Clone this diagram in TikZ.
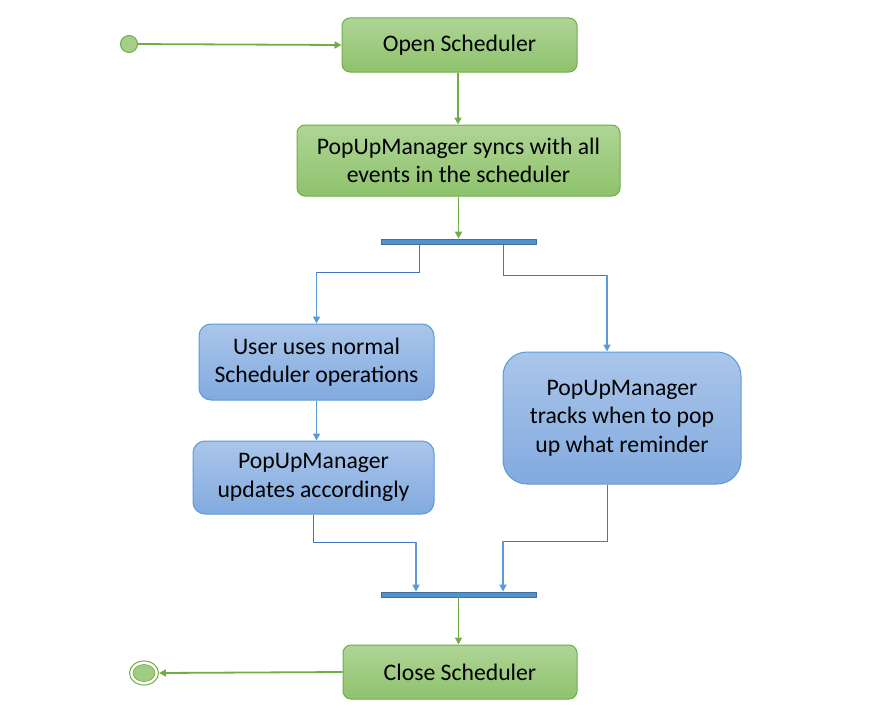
\documentclass[tikz,border=0pt]{standalone}
\usepackage{fontspec}
\setmainfont{Carlito}
\usetikzlibrary{arrows.meta,shapes.geometric}
\definecolor{grnline}{HTML}{70AD47}
\definecolor{grntop}{HTML}{AFD596}
\definecolor{grnbot}{HTML}{8EC26C}
\definecolor{bluline}{HTML}{5B9BD5}
\definecolor{bludark}{HTML}{4472C4}
\definecolor{blutop}{HTML}{AAC6EA}
\definecolor{blubot}{HTML}{82AADF}
\definecolor{barfill}{HTML}{5390CF}
\definecolor{barline}{HTML}{41719C}
\tikzset{
    greenbox/.style={draw=grnline, line width=1pt, rounded corners=8pt, top color=grntop, bottom color=grnbot, align=center, inner sep=0pt},
    bluebox/.style={draw=bluline, line width=1pt, rounded corners=12pt, top color=blutop, bottom color=blubot, align=center, inner sep=0pt},
    forkbar/.style={draw=barline, fill=barfill, line width=0.8pt, minimum width=155pt, minimum height=5pt, inner sep=0pt},
    greenarrow/.style={draw=grnline, line width=1.8pt, -{Triangle[width=7pt,length=7pt]}},
    bluearrow/.style={draw=bluline, line width=1.6pt, -{Triangle[width=7pt,length=7pt]}},
    blueline/.style={draw=bludark, line width=1pt}
}
\begin{document}
\begin{tikzpicture}[x=1pt,y=-1pt,font=\fontsize{23.7}{28.5}\selectfont]
            \useasboundingbox (0,0) rectangle (872,709);
            \node[circle, draw=grnline, fill=grnbot!80!white, line width=1pt, minimum size=17pt, inner sep=0pt] (start) at (129,44) {};
            \node[greenbox, minimum width=235pt, minimum height=54pt] (open) at (459.5,45) {Open Scheduler};
            \node[greenbox, minimum width=323pt, minimum height=71pt] (sync) at (458.5,160.5) {PopUpManager syncs with all\\events in the scheduler};
            \node[forkbar] (fork) at (458.5,241.5) {};
            \node[bluebox, minimum width=235pt, minimum height=76pt] (user) at (316.5,362) {User uses normal\\Scheduler operations};
            \node[bluebox, minimum width=241pt, minimum height=73pt] (update) at (313.5,477.5) {PopUpManager\\updates accordingly};
            \node[bluebox, rounded corners=24pt, minimum width=238pt, minimum height=132pt] (track) at (622,418) {PopUpManager\\tracks when to pop\\up what reminder};
            \node[forkbar] (join) at (458.5,594.5) {};
            \node[greenbox, minimum width=234pt, minimum height=54pt] (close) at (460,672) {Close Scheduler};
            \node[ellipse, draw=grnline, line width=1pt, minimum width=29pt, minimum height=24pt, inner sep=0pt] (stop) at (144,673) {};
            \node[ellipse, fill=grnbot!85!white, draw=grnline, line width=0.6pt, minimum width=22pt, minimum height=17pt, inner sep=0pt] at (stop) {};
            % connector corners
            \coordinate (fl) at (419,272);
            \coordinate (fr) at (503,275);
            \coordinate (jl) at (416,542);
            \coordinate (jr) at (503,541);
            \draw[greenarrow] (start) -- (open.west);
            \draw[greenarrow] (open.south -| 458,0) -- (sync.north -| 458,0);
            \draw[greenarrow] (sync) -- (fork.north);
            \draw[blueline] (fork.south -| fl) -- (fl) -- (fl -| user);
            \draw[bluearrow] (fl -| user) -- (user.north);
            \draw[blueline] (fork.south -| fr) -- (fr) -- (fr -| 607,0);
            \draw[bluearrow] (fr -| 607,0) -- (track.north -| 607,0);
            \draw[bluearrow] (user) -- (user.south |- update.north);
            \draw[blueline] (update.south) -- (update.south |- jl) -- (jl);
            \draw[bluearrow] (jl) -- (join.north -| jl);
            \draw[blueline] (track.south -| 607,0) -- (607,541) -- (jr);
            \draw[bluearrow] (jr) -- (join.north -| jr);
            \draw[greenarrow] (join) -- (close.north -| join);
            \draw[greenarrow] (close.west) -- (stop.east);
        \end{tikzpicture}
\end{document}
